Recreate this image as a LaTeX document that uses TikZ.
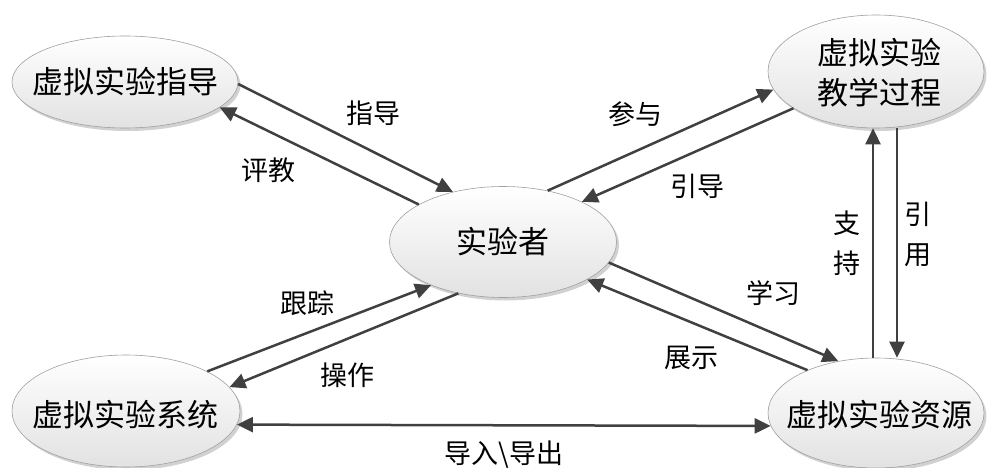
\documentclass[tikz,border=0pt]{standalone}
\usepackage{fontspec}
\setmainfont{Noto Sans CJK SC}
\usetikzlibrary{arrows.meta,shadows,shapes.geometric}
\definecolor{arrowgray}{HTML}{404040}
\definecolor{edgegray}{HTML}{A0A0A0}
\definecolor{fillbottom}{HTML}{E2E2E2}
\begin{document}
\begin{tikzpicture}[x=1pt,y=-1pt,
  >={Triangle[length=16pt,width=15pt]},
  blob/.style={ellipse, draw=edgegray, line width=0.6pt, top color=white, bottom color=fillbottom, inner sep=0pt,
    drop shadow={shadow xshift=2.5pt, shadow yshift=-3pt, fill=black, opacity=0.18}},
  blobtext/.style={font=\fontsize{31}{40}\selectfont, align=center, inner sep=0pt},
  rel/.style={draw=arrowgray, line width=2.5pt, ->},
  tag/.style={font=\fontsize{27}{40}\selectfont, fill=white, inner sep=1pt, align=center}]
\useasboundingbox (0,0) rectangle (987,468);

% ellipses
\node[blob, minimum width=226pt, minimum height=92pt] (A) at (125,82) {};
\node[blobtext] (At) at (A) {虚拟实验指导};
\node[blob, minimum width=216pt, minimum height=113pt] (B) at (876,71.5) {};
\node[blobtext] (Bt) at (879,73) {虚拟实验\\教学过程};
\node[blob, minimum width=227pt, minimum height=111pt] (C) at (503,242) {};
\node[blobtext] (Ct) at (C) {实验者};
\node[blob, minimum width=228pt, minimum height=112pt] (D) at (126,411) {};
\node[blobtext] (Dt) at (125,415) {虚拟实验系统};
\node[blob, minimum width=216pt, minimum height=110pt] (E) at (876,413) {};
\node[blobtext] (Et) at (879,415) {虚拟实验资源};

% connectors
\draw[rel] (A.-1.5) -- (C.135.5);
\draw[rel] (C.156) -- (A.-15.8);
\draw[rel] (C.49.8) -- (B.190.2);
\draw[rel] (B.204.3) -- (C.27.7);
\draw[rel] (D.26.6) -- (C.211.7);
\draw[rel] (C.229.7) -- (D.13.4);
\draw[rel] (C.-11.1) -- (E.126.7);
\draw[rel] (E.148) -- (C.-24.7);
\coordinate (sx) at (873,0);
\coordinate (yx) at (897,0);
\draw[rel] (E.north -| sx) -- (B.south -| sx);
\draw[rel] (B.south -| yx) -- (E.north -| yx);
\draw[rel, <->] (D.-7) -- (E.187);

% labels
\node[tag] (l1) at (373,113) {指导};
\node[tag] (l2) at (268,170) {评教};
\node[tag] (l3) at (635,114) {参与};
\node[tag] (l4) at (697,186) {引导};
\node[tag] (l5) at (307,303) {跟踪};
\node[tag] (l6) at (347,375) {操作};
\node[tag] (l7) at (773,293) {学习};
\node[tag] (l8) at (691,358) {展示};
\node[tag] (l9) at (847,243) {支\\持};
\node[tag, fill=none] (l10) at (918,234) {引\\用};
\node[tag] (l11) at (504,455) {导入\textbackslash 导出};
\end{tikzpicture}
\end{document}
